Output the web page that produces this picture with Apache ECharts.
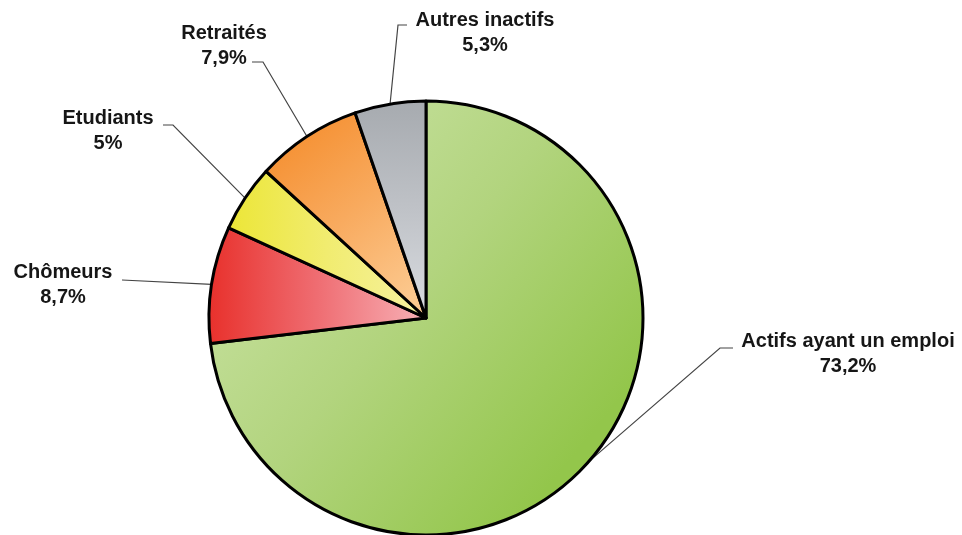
<!DOCTYPE html>
<html>
<head>
<meta charset="utf-8">
<script src="https://cdn.jsdelivr.net/npm/echarts@6/dist/echarts.min.js"></script>
<style>
  html, body { margin: 0; padding: 0; background: #fff; }
  #chart { width: 962px; height: 535px; }
</style>
</head>
<body>
<div id="chart"></div>
<script>
// Population par statut (en %)
const categories = ['Actifs ayant un emploi', 'Chômeurs', 'Etudiants', 'Retraités', 'Autres inactifs'];
const shares = [73.2, 8.7, 5, 7.9, 5.3];

// Slice fills: [x, y, x2, y2, colour stops]
const fills = [
  [0.05, 0.15, 0.85, 0.8, ['#cae3a4', '#b2d47e', '#93c64b']],
  [0, 0, 1, 0, ['#e8302b', '#ef6d72', '#f7b2b8']],
  [0, 0, 1, 0, ['#ece636', '#f1ec70', '#f6f2a2']],
  [0.1, 0.1, 0.9, 0.9, ['#f58f30', '#f8aa5e', '#fcc88e']],
  [0, 0, 0, 1, ['#a6aaaf', '#bfc2c7', '#dadde1']]
];

// Label placement: text block centre and leader-line path near the text
const labelPlaces = [
  { x: 848, y: 354, path: [[720, 348], [733, 348]] },
  { x: 63,  y: 285, path: [[122, 280]] },
  { x: 108, y: 131, path: [[173, 125], [163, 125]] },
  { x: 224, y: 46,  path: [[263, 62], [252, 62]] },
  { x: 485, y: 33,  path: [[398, 25], [407, 25]] }
];

function gradient(f) {
  const stops = f[4].map((c, i) => ({ offset: i / (f[4].length - 1), color: c }));
  return new echarts.graphic.LinearGradient(f[0], f[1], f[2], f[3], stops);
}

const data = categories.map((name, i) => ({
  name: name,
  value: shares[i],
  itemStyle: { color: gradient(fills[i]) }
}));

const chart = echarts.init(document.getElementById('chart'), null, { renderer: 'canvas' });

chart.setOption({
  backgroundColor: '#ffffff',
  animation: false,
  series: [{
    type: 'pie',
    center: [426, 318],
    radius: 217,
    startAngle: 90,
    clockwise: true,
    avoidLabelOverlap: false,
    data: data,
    itemStyle: { borderColor: '#000', borderWidth: 3 },
    emphasis: { disabled: true },
    label: {
      show: true,
      position: 'outside',
      formatter: p => p.name + '\n' + String(p.value).replace('.', ',') + '%',
      fontFamily: '"Liberation Sans", Arial, sans-serif',
      fontWeight: 'bold',
      fontSize: 20,
      lineHeight: 25,
      color: '#161616',
      align: 'center'
    },
    labelLine: {
      show: true,
      length: 20,
      length2: 10,
      smooth: false,
      lineStyle: { color: '#444', width: 1.2 }
    },
    labelLayout: function (params) {
      const place = labelPlaces[params.dataIndex];
      const start = params.labelLinePoints ? params.labelLinePoints[0] : null;
      const out = {
        x: place.x,
        y: place.y,
        align: 'center',
        verticalAlign: 'middle'
      };
      if (start) {
        out.labelLinePoints = [start].concat(place.path);
      }
      return out;
    }
  }]
});
</script>
</body>
</html>
